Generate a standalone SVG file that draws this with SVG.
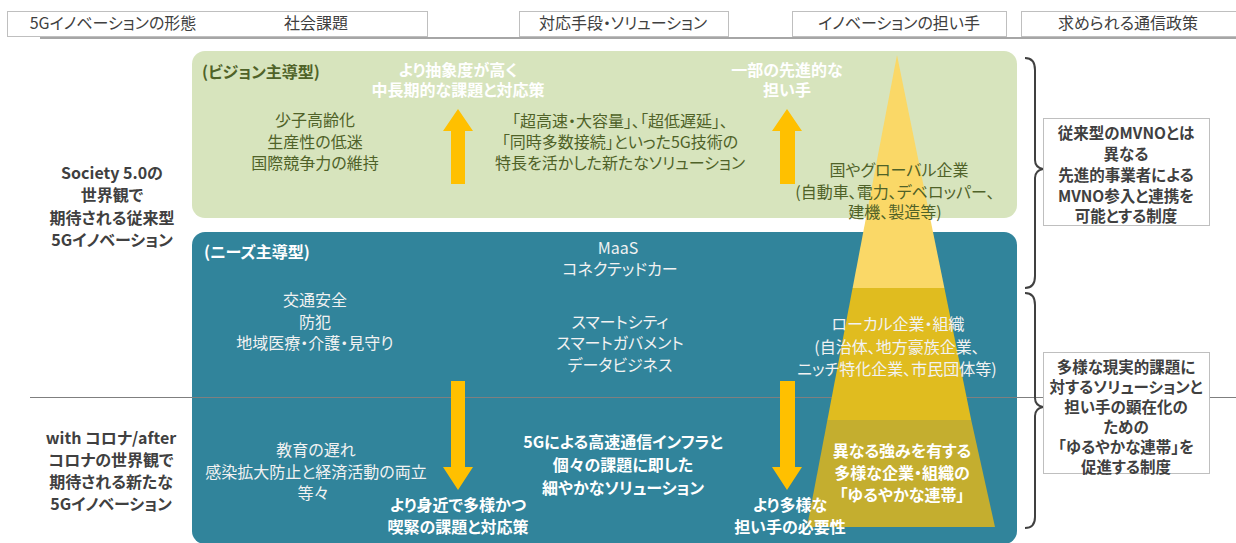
<svg xmlns="http://www.w3.org/2000/svg" width="1236" height="543" viewBox="0 0 1236 543">
<style>
text{font-family:"Noto Sans CJK JP","Noto Sans",sans-serif;font-feature-settings:"palt";text-anchor:middle;font-size:16px}
.b{font-weight:bold}
.g{fill:#404040}
.ol{fill:#4F6228}
.wh{fill:#FFFFFF}
.lt{fill:#F2F2F2}
.st{text-anchor:start}
.p{font-size:15.5px}
.hbox{fill:#FFFFFF;stroke:#BFBFBF;stroke-width:1}
.arrow{fill:#FFC000}
.brace{fill:none;stroke:#404040;stroke-width:2}
</style>
<rect width="1236" height="543" fill="#FFFFFF"/>
<g id="header">
<rect class="hbox" x="7.5" y="11.5" width="420" height="25"/>
<rect class="hbox" x="519.5" y="11.5" width="209" height="25"/>
<rect class="hbox" x="792.5" y="11.5" width="214" height="25"/>
<rect class="hbox" x="1021.5" y="11.5" width="220" height="25"/>
<path d="M40,38 H1236" stroke="#A6A6A6" stroke-width="2"/>
<text class="g" x="113" y="29">5Gイノベーションの形態</text>
<text class="g" x="316" y="29">社会課題</text>
<text class="g" x="623" y="29">対応手段・ソリューション</text>
<text class="g" x="899" y="29">イノベーションの担い手</text>
<text class="g" x="1128" y="29">求められる通信政策</text>
</g>
<g id="vision-box">
<rect x="192" y="51" width="825" height="167" rx="13" fill="#D7E4BD"/>
</g>
<g id="needs-box">
<rect x="192" y="232" width="825" height="312" rx="13" fill="#31849B"/>
</g>
<path id="divider" d="M30,397.5 H1236" stroke="#7F7F7F" stroke-width="1"/>
<g id="pyramid">
<polygon points="897,55 944.4,288 852.6,288" fill="#FAD867"/>
<polygon points="852.6,288 944.4,288 971.2,420 827.4,420" fill="#E0BC1F"/>
<polygon points="827.4,420 971.2,420 995,527 807,527" fill="#C4AE2F"/>
</g>
<g id="connectors">
<polygon class="arrow" points="458,109 473,131 465,131 465,184 451,184 451,131 443,131"/>
<polygon class="arrow" points="787,109 802,131 795,131 795,184 780,184 780,131 772,131"/>
<polygon class="arrow" points="451,381 465,381 465,467 473,467 458,490 443,467 451,467"/>
<polygon class="arrow" points="780,381 795,381 795,467 802,467 787,490 772,467 780,467"/>
<path class="brace" d="M1025,58 C1032,58 1035,62 1035,70 L1035,160 C1035,165 1038,168 1043,169 C1038,170 1035,173 1035,178 L1035,276 C1035,284 1032,288 1025,288"/>
<path class="brace" d="M1025,293 C1032,293 1035,297 1035,305 L1035,398 C1035,403 1038,406 1043,407 C1038,408 1035,411 1035,416 L1035,517 C1035,524 1032,528 1025,528"/>
</g>
<g id="label-society">
<text class="b g" x="112" y="179">Society 5.0の</text>
<text class="b g" x="112" y="201">世界観で</text>
<text class="b g" x="112" y="224">期待される従来型</text>
<text class="b g" x="112" y="246">5Gイノベーション</text>
</g>
<g id="label-corona">
<text class="b g" x="111" y="444">with コロナ/after</text>
<text class="b g" x="111" y="466">コロナの世界観で</text>
<text class="b g" x="111" y="488">期待される新たな</text>
<text class="b g" x="111" y="510">5Gイノベーション</text>
</g>
<g id="vision-texts">
<text class="b ol st" x="202" y="78">(ビジョン主導型)</text>
<text class="b wh" x="458" y="76">より抽象度が高く</text>
<text class="b wh" x="458" y="96">中長期的な課題と対応策</text>
<text class="ol" x="315" y="126">少子高齢化</text>
<text class="ol" x="315" y="148">生産性の低迷</text>
<text class="ol" x="315" y="169">国際競争力の維持</text>
<text class="ol" x="620" y="127">「超高速・大容量」、「超低遅延」、</text>
<text class="ol" x="620" y="148">「同時多数接続」といった5G技術の</text>
<text class="ol" x="620" y="169">特長を活かした新たなソリューション</text>
<text class="b wh" x="787" y="76">一部の先進的な</text>
<text class="b wh" x="787" y="96">担い手</text>
<text class="ol" x="899" y="176">国やグローバル企業</text>
<text class="ol" x="895" y="198">(自動車、電力、デベロッパー、</text>
<text class="ol" x="895" y="218">建機、製造等)</text>
</g>
<g id="needs-texts">
<text class="b wh st" x="204" y="258">(ニーズ主導型)</text>
<text class="lt" x="618" y="254">MaaS</text>
<text class="lt" x="620" y="275">コネクテッドカー</text>
<text class="lt" x="315" y="306">交通安全</text>
<text class="lt" x="315" y="328">防犯</text>
<text class="lt" x="315" y="349">地域医療・介護・見守り</text>
<text class="lt" x="620" y="328">スマートシティ</text>
<text class="lt" x="620" y="349">スマートガバメント</text>
<text class="lt" x="620" y="371">データビジネス</text>
<text class="lt" x="898" y="330">ローカル企業・組織</text>
<text class="lt" x="897" y="353">(自治体、地方豪族企業、</text>
<text class="lt" x="897" y="375">ニッチ特化企業、市民団体等)</text>
<text class="lt" x="316" y="456">教育の遅れ</text>
<text class="lt" x="316" y="478">感染拡大防止と経済活動の両立</text>
<text class="lt" x="313" y="499">等々</text>
<text class="b wh" x="458" y="511">より身近で多様かつ</text>
<text class="b wh" x="458" y="533">喫緊の課題と対応策</text>
<text class="b wh" x="623" y="448">5Gによる高速通信インフラと</text>
<text class="b wh" x="623" y="471">個々の課題に即した</text>
<text class="b wh" x="623" y="494">細やかなソリューション</text>
<text class="b wh" x="790" y="511">より多様な</text>
<text class="b wh" x="790" y="533">担い手の必要性</text>
<text class="b wh" x="902" y="457">異なる強みを有する</text>
<text class="b wh" x="902" y="479">多様な企業・組織の</text>
<text class="b wh" x="902" y="501">「ゆるやかな連帯」</text>
</g>
<g id="policy-1">
<rect class="hbox" x="1043.5" y="118.5" width="166" height="107"/>
<text class="b g p" x="1126" y="139">従来型のMVNOとは</text>
<text class="b g p" x="1126" y="160">異なる</text>
<text class="b g p" x="1126" y="181">先進的事業者による</text>
<text class="b g p" x="1126" y="202">MVNO参入と連携を</text>
<text class="b g p" x="1126" y="222">可能とする制度</text>
</g>
<g id="policy-2">
<rect class="hbox" x="1043.5" y="352.5" width="166" height="121"/>
<text class="b g p" x="1126" y="373">多様な現実的課題に</text>
<text class="b g p" x="1126" y="393">対するソリューションと</text>
<text class="b g p" x="1126" y="413">担い手の顕在化の</text>
<text class="b g p" x="1126" y="433">ための</text>
<text class="b g p" x="1126" y="453">「ゆるやかな連帯」を</text>
<text class="b g p" x="1126" y="473">促進する制度</text>
</g>
</svg>
